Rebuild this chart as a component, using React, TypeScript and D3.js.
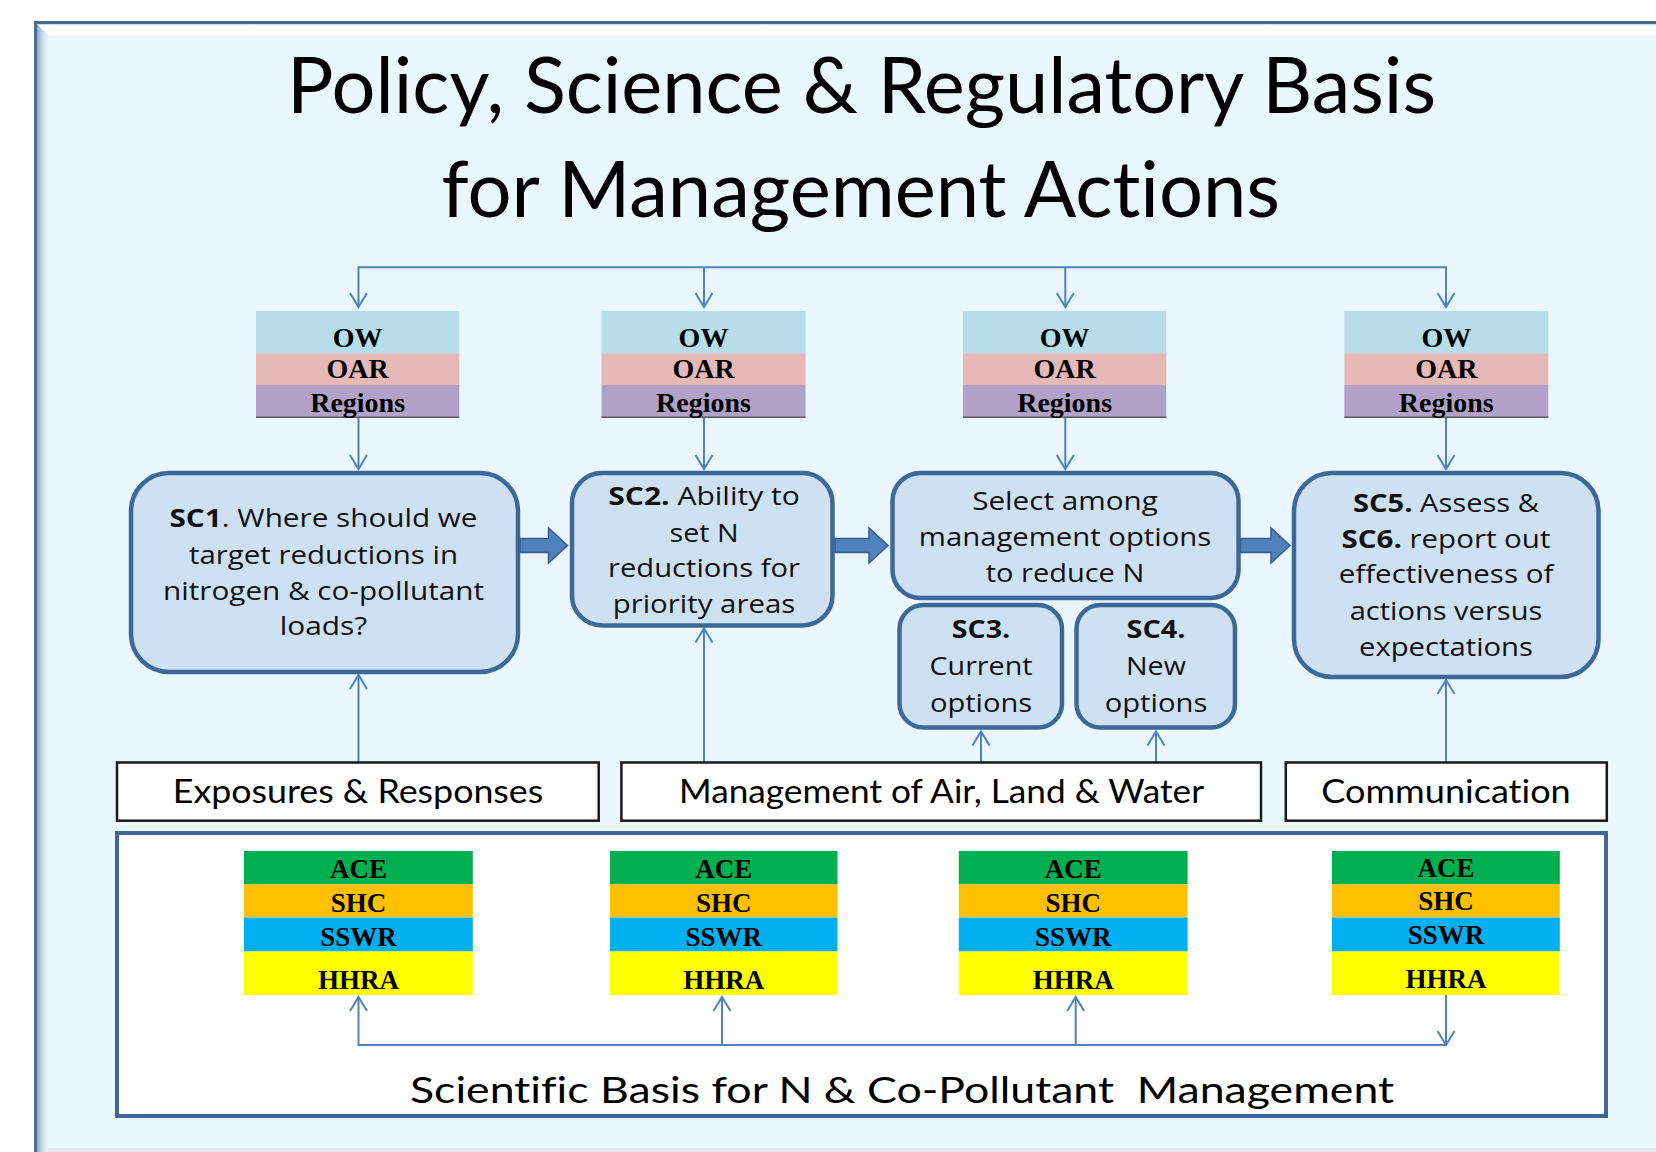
import React from "react";
import * as d3 from "d3";

// ---------------- DATA ----------------
const titleLines = ["Policy, Science & Regulatory Basis", "for Management Actions"];
const agencyRows = ["OW", "OAR", "Regions"];
const scienceRows = ["ACE", "SHC", "SSWR", "HHRA"];
const footerLabels = ["Exposures & Responses", "Management of Air, Land & Water", "Communication"];
const baseLabel = "Scientific Basis for N & Co-Pollutant  Management";

type Seg = { t: string; b?: boolean };
const stepSC1: Seg[][] = [
  [{ t: "SC1", b: true }, { t: ". Where should we" }],
  [{ t: "target reductions in" }],
  [{ t: "nitrogen & co-pollutant" }],
  [{ t: "loads?" }],
];
const stepSC2: Seg[][] = [
  [{ t: "SC2.", b: true }, { t: " Ability to" }],
  [{ t: "set N" }],
  [{ t: "reductions for" }],
  [{ t: "priority areas" }],
];
const stepSelect: Seg[][] = [
  [{ t: "Select among" }],
  [{ t: "management options" }],
  [{ t: "to reduce N" }],
];
const stepSC3: Seg[][] = [[{ t: "SC3.", b: true }], [{ t: "Current" }], [{ t: "options" }]];
const stepSC4: Seg[][] = [[{ t: "SC4.", b: true }], [{ t: "New" }], [{ t: "options" }]];
const stepSC5: Seg[][] = [
  [{ t: "SC5.", b: true }, { t: " Assess &" }],
  [{ t: "SC6.", b: true }, { t: " report out" }],
  [{ t: "effectiveness of" }],
  [{ t: "actions versus" }],
  [{ t: "expectations" }],
];

// ---------------- STYLES ----------------
const agencyColors = ["#b7dde8", "#e6b9b8", "#b3a2c7"];
const scienceColors = ["#00b050", "#ffc000", "#00b0f0", "#ffff00"];
const LINE = "#4f81bd";
const BOX_FILL = "#cee1f2";
const BOX_STROKE = "#3e6898";
const BG = "#eaf7fe";
const TXT_FONT = "'Open Sans', sans-serif";
const GILL = "Lato, sans-serif";
const SERIF = "'Liberation Serif', 'Times New Roman', serif";
const NOLIG: React.CSSProperties = { fontVariantLigatures: "none", fontFeatureSettings: "'liga' 0, 'dlig' 0, 'clig' 0" };

// ---------------- LAYOUT ----------------
const W = 1656, H = 1152;
const colX = [358.5, 704, 1065.3, 1446];
const agencyBoxes = [[256, 459.3], [601.5, 805.5], [963, 1166.3], [1344.3, 1548.3]];
const agencyBands = [311, 353.3, 385, 417.7];
const agencyBase = [346.7, 378.3, 411.7];
const scienceBoxes = [[244, 472.8], [610, 837.5], [958.8, 1187.6], [1332, 1559.8]];
const scienceBands = [851, 884.5, 917.5, 951.5, 995];
const scienceBase = [878, 911.5, 945.5, 989];
const scienceArrowX = [358.5, 722, 1075.7, 1446];

type Step = { lines: Seg[][]; x0: number; x1: number; y0: number; y1: number; r: number; cx: number; base: number[]; widths: number[] };
const steps: Step[] = [
  { lines: stepSC1, x0: 131, x1: 518, y0: 473, y1: 672, r: 38, cx: 323.5, base: [527, 563.5, 599.5, 635], widths: [308, 269, 321, 87.5] },
  { lines: stepSC2, x0: 572, x1: 832.5, y0: 473, y1: 625.5, r: 30, cx: 704, base: [505, 541.5, 577, 613], widths: [191.5, 69, 192, 182.6] },
  { lines: stepSelect, x0: 892.5, x1: 1238.5, y0: 473, y1: 598, r: 28, cx: 1065, base: [510, 546, 582], widths: [185.7, 292.4, 158.5] },
  { lines: stepSC3, x0: 899.5, x1: 1062, y0: 605, y1: 727.5, r: 24, cx: 981, base: [638, 675, 711.7], widths: [58.5, 103, 102.2] },
  { lines: stepSC4, x0: 1076.5, x1: 1235, y0: 605, y1: 727.5, r: 24, cx: 1156, base: [638, 675, 711.7], widths: [59, 60, 102.7] },
  { lines: stepSC5, x0: 1294, x1: 1598.5, y0: 473, y1: 677, r: 38, cx: 1446, base: [511.7, 547.7, 583.3, 620, 656], widths: [186, 209, 214.7, 192.7, 174] },
];
const blockArrows = [[520, 567.5], [835, 888], [1240.5, 1290]];
const blockArrowY = 545.5;

const footerBoxes = [[117, 598.7], [621.4, 1261], [1285.8, 1606.8]];
const footerY = [762.5, 820.7];
const footerCx = [358, 941.5, 1446];
const footerW = [370.5, 525, 249.5];
const footerBase = 803;

// ---------------- HELPERS ----------------
const line = d3.line<[number, number]>();

function roundRect(x0: number, y0: number, x1: number, y1: number, r: number) {
  const p = d3.path();
  p.moveTo(x0 + r, y0);
  p.lineTo(x1 - r, y0);
  p.arcTo(x1, y0, x1, y0 + r, r);
  p.lineTo(x1, y1 - r);
  p.arcTo(x1, y1, x1 - r, y1, r);
  p.lineTo(x0 + r, y1);
  p.arcTo(x0, y1, x0, y1 - r, r);
  p.lineTo(x0, y0 + r);
  p.arcTo(x0, y0, x0 + r, y0, r);
  p.closePath();
  return p.toString();
}

function vArrowHead(x: number, tipY: number, dir: 1 | -1) {
  return line([[x - 8.5, tipY - dir * 14], [x, tipY], [x + 8.5, tipY - dir * 14]]) as string;
}

function blockArrow(x0: number, x1: number, cy: number) {
  const sh = 7, hh = 17.5, hl = 19;
  return line([
    [x0, cy - sh], [x1 - hl, cy - sh], [x1 - hl, cy - hh], [x1, cy],
    [x1 - hl, cy + hh], [x1 - hl, cy + sh], [x0, cy + sh],
  ]) + "Z";
}

function StepText({ s }: { s: Step }) {
  return (
    <g>
      {s.lines.map((segs, i) => (
        <text key={i} x={s.cx} y={s.base[i]} textAnchor="middle" fontFamily={TXT_FONT} fontSize={25}
          fill="#111" textLength={s.widths[i]} lengthAdjust="spacingAndGlyphs" style={{ whiteSpace: "pre", ...NOLIG }}>
          {segs.map((g, j) => (
            <tspan key={j} fontWeight={g.b ? 700 : 400}>{g.t}</tspan>
          ))}
        </text>
      ))}
    </g>
  );
}

export default function App() {
  return (
    <svg width={W} height={H} style={{ position: "absolute", left: 0, top: 0, display: "block" }}>
      <defs>
        <linearGradient id="leftBevel" x1="0" x2="1" y1="0" y2="0">
          <stop offset="0" stopColor="#8ea8c1" />
          <stop offset="0.45" stopColor="#c5d8e8" />
          <stop offset="1" stopColor={BG} />
        </linearGradient>
        <linearGradient id="topBevel" x1="0" x2="0" y1="0" y2="1">
          <stop offset="0" stopColor="#b9cee0" />
          <stop offset="0.15" stopColor="#ffffff" />
          <stop offset="1" stopColor="#ffffff" />
        </linearGradient>
      </defs>
      {/* page & frame */}
      <rect x={0} y={0} width={W} height={H} fill="#ffffff" />
      <rect x={34} y={21} width={W - 34} height={H - 21} fill={BG} />
      <path d={line([[37, 24], [W, 24], [W, 35], [48, 35]]) + "Z"} fill="url(#topBevel)" />
      <path d={line([[37, 24], [48, 35], [48, H], [37, H]]) + "Z"} fill="url(#leftBevel)" />
      <rect x={48} y={1148} width={W - 48} height={4} fill="#e2eaf1" />
      <path d={line([[35.5, H], [35.5, 22.5], [W, 22.5]]) as string} fill="none" stroke="#4c6c90" strokeWidth={3} />

      {/* title */}
      {titleLines.map((t, i) => (
        <text key={t} x={i === 0 ? 861.5 : 860.8} y={i === 0 ? 113 : 217} textAnchor="middle" fontFamily={GILL}
          fontSize={78} fill="#000" textLength={i === 0 ? 1149 : 838.5} lengthAdjust="spacingAndGlyphs" style={NOLIG}>{t}</text>
      ))}

      {/* top distribution connector */}
      <path d={line([[colX[0], 307], [colX[0], 267.3], [colX[3], 267.3], [colX[3], 307]]) as string} fill="none" stroke={LINE} strokeWidth={2} />
      {colX.map((x, i) => (
        <g key={"top" + i}>
          {i > 0 && i < 3 && <path d={line([[x, 267.3], [x, 307]]) as string} stroke={LINE} strokeWidth={2} />}
          <path d={vArrowHead(x, 307, 1)} fill="none" stroke={LINE} strokeWidth={2} />
          <path d={line([[x, 418], [x, 469]]) as string} stroke={LINE} strokeWidth={2} />
          <path d={vArrowHead(x, 469, 1)} fill="none" stroke={LINE} strokeWidth={2} />
        </g>
      ))}

      {/* agency boxes */}
      {agencyBoxes.map(([x0, x1], i) => (
        <g key={"ag" + i}>
          {agencyRows.map((r, k) => (
            <rect key={r} x={x0} y={agencyBands[k]} width={x1 - x0} height={agencyBands[k + 1] - agencyBands[k]} fill={agencyColors[k]} />
          ))}
          <line x1={x0} x2={x1} y1={agencyBands[3] - 0.5} y2={agencyBands[3] - 0.5} stroke="#5a5a5a" strokeWidth={1.5} />
          {agencyRows.map((r, k) => (
            <text key={r} x={(x0 + x1) / 2} y={agencyBase[k]} textAnchor="middle" fontFamily={SERIF}
              fontWeight={700} fontSize={28} fill="#000">{r}</text>
          ))}
        </g>
      ))}

      {/* upward connectors from footer boxes */}
      {[[colX[0], 675], [colX[1], 628.5], [981, 731.5], [1156, 731.5], [colX[3], 680]].map(([x, tip], i) => (
        <g key={"up" + i}>
          <path d={line([[x, footerY[0]], [x, tip]]) as string} stroke={LINE} strokeWidth={2} />
          <path d={vArrowHead(x, tip, -1)} fill="none" stroke={LINE} strokeWidth={2} />
        </g>
      ))}

      {/* steps */}
      {steps.map((s, i) => (
        <g key={"st" + i}>
          <path d={roundRect(s.x0, s.y0, s.x1, s.y1, s.r)} fill={BOX_FILL} stroke={BOX_STROKE} strokeWidth={4.5} />
          <StepText s={s} />
        </g>
      ))}
      {blockArrows.map(([a, b], i) => (
        <path key={"ba" + i} d={blockArrow(a, b, blockArrowY)} fill="#4f81bd" stroke="#385d8a" strokeWidth={1.5} />
      ))}

      {/* footer label boxes */}
      {footerBoxes.map(([x0, x1], i) => (
        <g key={"fb" + i}>
          <rect x={x0} y={footerY[0]} width={x1 - x0} height={footerY[1] - footerY[0]} fill="#ffffff" stroke="#1a1a1a" strokeWidth={2.5} />
          <text x={footerCx[i]} y={footerBase} textAnchor="middle" fontFamily={GILL} fontSize={32.5} fill="#000"
            textLength={footerW[i]} lengthAdjust="spacingAndGlyphs" style={NOLIG}>{footerLabels[i]}</text>
        </g>
      ))}

      {/* scientific basis box */}
      <rect x={117} y={833} width={1606 - 117} height={1116 - 833} fill="#ffffff" stroke="#41669a" strokeWidth={4} />
      {scienceBoxes.map(([x0, x1], i) => (
        <g key={"sc" + i}>
          {scienceRows.map((r, k) => (
            <rect key={r} x={x0} y={scienceBands[k]} width={x1 - x0} height={scienceBands[k + 1] - scienceBands[k]} fill={scienceColors[k]} />
          ))}
          {scienceRows.map((r, k) => (
            <text key={r} x={(x0 + x1) / 2} y={scienceBase[k] - (i === 3 ? 1.5 : 0)} textAnchor="middle" fontFamily={SERIF}
              fontWeight={700} fontSize={27} fill="#000">{r}</text>
          ))}
        </g>
      ))}
      <path d={line([[scienceArrowX[0], 997], [scienceArrowX[0], 1045], [scienceArrowX[3], 1045], [scienceArrowX[3], 995]]) as string}
        fill="none" stroke={LINE} strokeWidth={2} />
      {scienceArrowX.slice(0, 3).map((x, i) => (
        <g key={"sa" + i}>
          {i > 0 && <path d={line([[x, 1045], [x, 997]]) as string} stroke={LINE} strokeWidth={2} />}
          <path d={vArrowHead(x, 997, -1)} fill="none" stroke={LINE} strokeWidth={2} />
        </g>
      ))}
      <path d={vArrowHead(scienceArrowX[3], 1045, 1)} fill="none" stroke={LINE} strokeWidth={2} />
      <text x={902} y={1103} textAnchor="middle" fontFamily={GILL} fontSize={37} fill="#000" textLength={984}
        lengthAdjust="spacingAndGlyphs" style={{ whiteSpace: "pre", ...NOLIG }}>{baseLabel}</text>
    </svg>
  );
}
